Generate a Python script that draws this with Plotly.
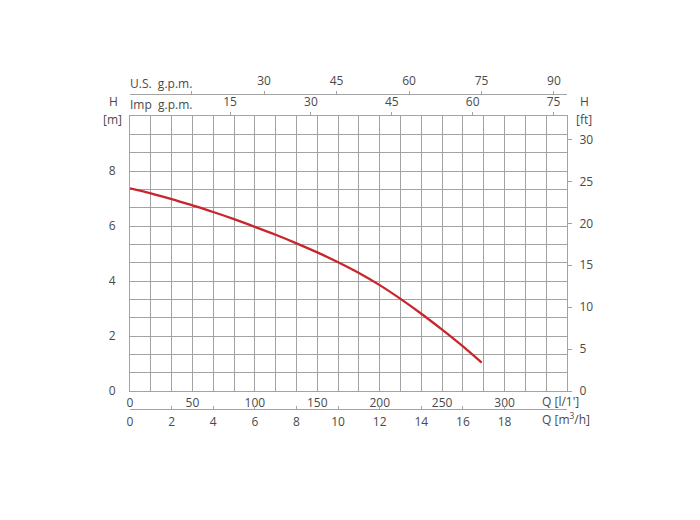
import plotly.graph_objects as go

# Data (flow in m3/h, head in m)
q_m3h = [0, 1, 2, 3, 4, 5, 6, 7, 8, 9, 10, 11, 12, 13, 14, 15, 16, 16.9]
h_m = [7.37, 7.19, 6.98, 6.75, 6.51, 6.25, 5.97, 5.68, 5.37, 5.04, 4.68, 4.29, 3.85, 3.35, 2.81, 2.23, 1.62, 1.03]

lpm_ticks = [0, 50, 100, 150, 200, 250, 300]
m3h_ticks = [0, 2, 4, 6, 8, 10, 12, 14, 16, 18]
imp_ticks = [15, 30, 45, 60, 75]
us_ticks = [15, 30, 45, 60, 75, 90]
us_text = ["", "30", "45", "60", "75", "90"]
h_ticks = [0, 2, 4, 6, 8]
ft_ticks = [0, 5, 10, 15, 20, 25, 30]

Q_MAX = 21.0
H_MAX = 10.0
LPM = 1000 / 60
FT = 3.28084
US_RANGE = [2.24, 92.7]    # as drawn in the reference
IMP_RANGE = [-3.56, 77.5]  # as drawn in the reference

GRID = "#a3a3a3"
TXT = "#4a4a4a"
FONT = dict(family="Open Sans", size=12, color=TXT)

fig = go.Figure()
fig.add_trace(go.Scatter(x=q_m3h, y=h_m, mode="lines", line=dict(color="#c8252c", width=2.3, shape="spline"),
                         xaxis="x", yaxis="y", showlegend=False, hoverinfo="skip"))
# invisible helpers so that every secondary axis is drawn
for xa, ya in [("x2", "y2"), ("x3", "y"), ("x4", "y"), ("x5", "y")]:
    fig.add_trace(go.Scatter(x=[0], y=[0], xaxis=xa, yaxis=ya, mode="markers",
                             marker=dict(opacity=0), showlegend=False, hoverinfo="skip"))

OFF = 8  # page body margin
W, H = 700, 520
mt, mb = 52, 80
ml, mr = 130 - OFF, 133 + OFF
ph = H - mt - mb
pw = W - ml - mr
def py(pix):
    return (H - mb - (pix - OFF)) / ph
def px(pix):
    return ((pix - OFF) - ml) / pw

ybot, ytop = py(391), py(116)

common = dict(fixedrange=True, zeroline=False, automargin=False)

fig.update_layout(
    width=W, height=H,
    margin=dict(l=ml, r=mr, t=mt, b=mb, autoexpand=False),
    paper_bgcolor="white", plot_bgcolor="white",
    font=FONT,
    xaxis=dict(range=[0, Q_MAX], anchor="y", showticklabels=False, ticks="",
               dtick=1, tick0=0, showgrid=True, gridcolor=GRID, gridwidth=1,
               showline=True, mirror=True, linecolor=GRID, linewidth=1, **common),
    xaxis2=dict(range=[0, Q_MAX * LPM], overlaying="x", anchor="y", side="bottom",
                tickvals=lpm_ticks, ticks="", showgrid=False, showline=False,
                ticklabelstandoff=3, **common),
    xaxis3=dict(range=[0, Q_MAX], overlaying="x", anchor="free", position=py(409), side="bottom",
                tickvals=m3h_ticks, ticks="inside", ticklen=3, tickcolor=GRID, showgrid=False,
                showline=True, linecolor=GRID, linewidth=1, ticklabelstandoff=2, **common),
    xaxis4=dict(range=IMP_RANGE, overlaying="x", anchor="y", side="top",
                tickvals=imp_ticks, ticks="outside", ticklen=3, tickcolor=GRID, showgrid=False,
                showline=False, ticklabelstandoff=1, **common),
    xaxis5=dict(range=US_RANGE, overlaying="x", anchor="free", position=py(94), side="top",
                tickvals=us_ticks, ticktext=us_text, ticks="outside", ticklen=3, tickcolor=GRID,
                showgrid=False, showline=True, linecolor=GRID, linewidth=1, ticklabelstandoff=1, **common),
    yaxis=dict(range=[0, H_MAX], domain=[ybot, ytop], anchor="x",
               tickvals=h_ticks, ticks="", showgrid=True, gridcolor=GRID,
               minor=dict(dtick=2/3, tick0=0, showgrid=True, gridcolor=GRID, gridwidth=1),
               showline=True, mirror=True, linecolor=GRID, ticklabelstandoff=11, **common),
    yaxis2=dict(range=[0, H_MAX * FT], domain=[ybot, ytop], overlaying="y", side="right", anchor="x2",
                tickvals=ft_ticks, ticks="outside", ticklen=4, tickcolor=GRID, showgrid=False,
                showline=False, ticklabelstandoff=5, **common),
)

def ann_px(text, xpix, ypix, xanchor="left"):
    fig.add_annotation(text=text, x=px(xpix), y=py(ypix),
                       xref="paper", yref="paper", xanchor=xanchor, yanchor="middle",
                       showarrow=False, font=FONT)

ann_px("U.S.  g.p.m.", 128, 83)
ann_px("Imp  g.p.m.", 128, 104)
ann_px("H", 113, 102, "center")
ann_px("[m]", 112, 119, "center")
ann_px("H", 584, 102, "center")
ann_px("[ft]", 584, 119, "center")
ann_px("Q [l/1']", 540, 401)
ann_px("Q [m<sup>3</sup>/h]", 540, 419)

fig.write_html("out.html")
